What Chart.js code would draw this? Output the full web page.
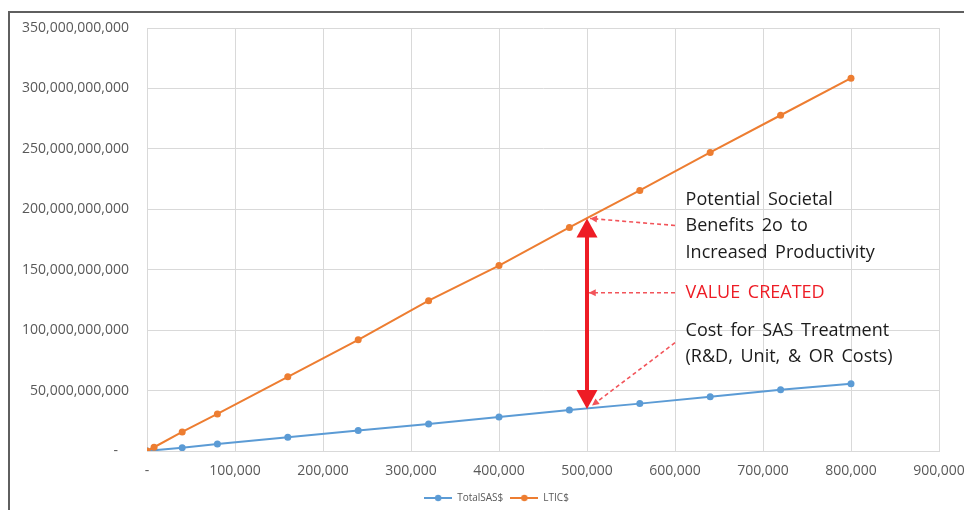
<!DOCTYPE html>
<html>
<head>
<meta charset="utf-8">
<script src="https://cdn.jsdelivr.net/npm/chart.js@4.4.1/dist/chart.umd.min.js"></script>
<style>
  html, body { margin: 0; padding: 0; background: #fff; }
  #wrap { position: relative; width: 964px; height: 510px; overflow: hidden; }
  #frame { position: absolute; left: 8px; top: 11px; width: 1000px; height: 600px;
           border-left: 2px solid #5f5f5f; border-top: 2px solid #5f5f5f; box-sizing: border-box; }
  canvas { position: absolute; left: 0; top: 0; }
</style>
</head>
<body>
<div id="wrap">
  <div id="frame"></div>
  <canvas id="c" width="964" height="510"></canvas>
</div>
<script>
// ---- data ----
const units = [0, 8000, 40000, 80000, 160000, 240000, 320000, 400000, 480000, 560000, 640000, 720000, 800000];
const totalSAS = [0, 0.6e9, 2.7e9, 5.8e9, 11.4e9, 16.9e9, 22.4e9, 28.2e9, 34.0e9, 39.2e9, 44.8e9, 50.6e9, 55.6e9];
const ltic = [0, 3.1e9, 15.8e9, 30.7e9, 61.4e9, 92.0e9, 124.4e9, 153.4e9, 185.0e9, 215.6e9, 247.0e9, 277.8e9, 308.5e9];
const seriesNames = ['TotalSAS$', 'LTIC$'];
const yTickLabels = ['-   ', '50,000,000,000', '100,000,000,000', '150,000,000,000', '200,000,000,000', '250,000,000,000', '300,000,000,000', '350,000,000,000'];
const xTickLabels = ['-', '100,000', '200,000', '300,000', '400,000', '500,000', '600,000', '700,000', '800,000', '900,000'];

// annotation content (in data units)
const benefitLines = ['Potential Societal', 'Benefits 2o to', 'Increased Productivity'];
const benefitLineY = [208.2e9, 186.6e9, 164.2e9];
const valueLabel = 'VALUE CREATED';
const valueLabelY = 131.0e9;
const costLines = ['Cost for SAS Treatment', '(R&D, Unit, & OR Costs)'];
const costLineY = [99.5e9, 78.0e9];
const labelX = 612000;
const arrowX = 500000, arrowTop = 192.4e9, arrowBottom = 34.8e9;
const leaderStartX = 600000;
const leaders = [
  { from: [leaderStartX, 186.6e9], to: [503400, 192.4e9] },
  { from: [leaderStartX, 131.0e9], to: [502000, 131.0e9] },
  { from: [leaderStartX, 89.6e9],  to: [505700, 37.6e9] }
];

const BLUE = '#5b9bd5', ORANGE = '#ed7d31', RED = '#ee1c25', DASHRED = '#f2545a';
const AXIS_TEXT = '#595959', GRID = '#d9d9d9';

function legendIcon(color) {
  const c = document.createElement('canvas');
  c.width = 28; c.height = 8;
  const g = c.getContext('2d');
  g.strokeStyle = color; g.lineWidth = 2;
  g.beginPath(); g.moveTo(0, 4); g.lineTo(28, 4); g.stroke();
  g.fillStyle = color; g.beginPath(); g.arc(14, 4, 3.2, 0, Math.PI * 2); g.fill();
  return c;
}
const icons = [legendIcon(BLUE), legendIcon(ORANGE)];

function arrowHead(ctx, tipX, tipY, fromX, fromY, len, halfW) {
  const ang = Math.atan2(tipY - fromY, tipX - fromX);
  ctx.beginPath();
  ctx.moveTo(tipX, tipY);
  ctx.lineTo(tipX - len * Math.cos(ang) + halfW * Math.sin(ang), tipY - len * Math.sin(ang) - halfW * Math.cos(ang));
  ctx.lineTo(tipX - len * Math.cos(ang) - halfW * Math.sin(ang), tipY - len * Math.sin(ang) + halfW * Math.cos(ang));
  ctx.closePath();
  ctx.fill();
}

const legendShift = {
  id: 'legendShift',
  afterLayout(chart) {
    const lg = chart.legend;
    if (lg) { lg.left += 27; lg.right += 27; lg.top += 3; lg.bottom += 3; }
  }
};

const annotationPlugin = {
  id: 'valueAnnotations',
  afterDatasetsDraw(chart) {
    const ctx = chart.ctx, xs = chart.scales.x, ys = chart.scales.y;
    const px = v => xs.getPixelForValue(v), py = v => ys.getPixelForValue(v);
    ctx.save();
    // leader dashed lines
    ctx.strokeStyle = DASHRED; ctx.fillStyle = DASHRED; ctx.lineWidth = 1.6;
    leaders.forEach(l => {
      const x1 = px(l.from[0]), y1 = py(l.from[1]), x2 = px(l.to[0]), y2 = py(l.to[1]);
      ctx.setLineDash([4, 3]);
      ctx.beginPath(); ctx.moveTo(x1, y1); ctx.lineTo(x2, y2); ctx.stroke();
      ctx.setLineDash([]);
      arrowHead(ctx, x2, y2, x1, y1, 7, 3.5);
    });
    // big double arrow
    const ax = px(arrowX), at = py(arrowTop), ab = py(arrowBottom);
    ctx.strokeStyle = RED; ctx.fillStyle = RED; ctx.lineWidth = 4;
    ctx.beginPath(); ctx.moveTo(ax, at + 16); ctx.lineTo(ax, ab - 16); ctx.stroke();
    arrowHead(ctx, ax, at, ax, at + 50, 19, 10.5);
    arrowHead(ctx, ax, ab, ax, ab - 50, 19, 10.5);
    // texts
    ctx.font = '18px "Open Sans", sans-serif';
    if ('wordSpacing' in ctx) ctx.wordSpacing = '3px';
    ctx.textAlign = 'left'; ctx.textBaseline = 'middle';
    ctx.fillStyle = '#1c1c1c';
    benefitLines.forEach((t, i) => ctx.fillText(t, px(labelX), py(benefitLineY[i])));
    costLines.forEach((t, i) => ctx.fillText(t, px(labelX), py(costLineY[i])));
    ctx.fillStyle = RED;
    ctx.fillText(valueLabel, px(labelX), py(valueLabelY));
    ctx.restore();
  }
};

new Chart(document.getElementById('c'), {
  type: 'line',
  data: {
    datasets: [
      { label: seriesNames[0], data: units.map((u, i) => ({ x: u, y: totalSAS[i] })),
        borderColor: BLUE, backgroundColor: BLUE, borderWidth: 2, pointRadius: 3.5,
        pointBackgroundColor: BLUE, pointBorderWidth: 0, order: 1 },
      { label: seriesNames[1], data: units.map((u, i) => ({ x: u, y: ltic[i] })),
        borderColor: ORANGE, backgroundColor: ORANGE, borderWidth: 2, pointRadius: 3.5,
        pointBackgroundColor: ORANGE, pointBorderWidth: 0, order: 0 }
    ]
  },
  options: {
    responsive: false,
    animation: false,
    events: [],
    layout: { padding: { left: 0, right: 25, top: 28, bottom: 0 } },
    scales: {
      x: {
        type: 'linear', min: 0, max: 900000,
        ticks: { stepSize: 100000, color: AXIS_TEXT, padding: 12, maxRotation: 0,
                 font: { family: '"Open Sans", sans-serif', size: 14 },
                 callback: (v, i) => xTickLabels[i] },
        grid: { color: GRID, lineWidth: 1, drawTicks: false },
        border: { color: GRID },
        afterFit: s => { s.paddingLeft = 0; s.paddingRight = 0; s.height = 32; }
      },
      y: {
        min: 0, max: 350e9,
        ticks: { stepSize: 50e9, color: AXIS_TEXT, padding: 18,
                 font: { family: '"Open Sans", sans-serif', size: 14 },
                 callback: (v, i) => yTickLabels[i] },
        grid: { color: GRID, lineWidth: 1, drawTicks: false },
        border: { color: GRID },
        afterFit: s => { s.width = 147; }
      }
    },
    plugins: {
      tooltip: { enabled: false },
      legend: {
        position: 'bottom',
        labels: {
          usePointStyle: true, pointStyleWidth: 28, boxHeight: 8,
          color: AXIS_TEXT, font: { family: '"Open Sans", sans-serif', size: 10 }, padding: 7,
          generateLabels: chart => chart.data.datasets.map((d, i) => ({
            text: d.label, pointStyle: icons[i], fillStyle: d.borderColor,
            strokeStyle: d.borderColor, lineWidth: 0, datasetIndex: i, hidden: false, fontColor: AXIS_TEXT
          }))
        }
      }
    }
  },
  plugins: [annotationPlugin, legendShift]
});
</script>
</body>
</html>
